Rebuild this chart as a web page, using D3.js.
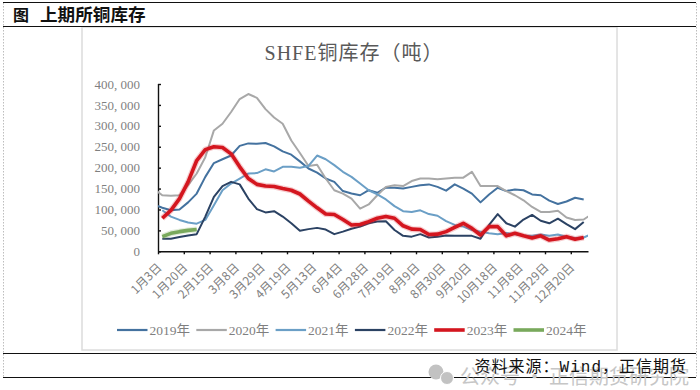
<!DOCTYPE html>
<html><head><meta charset="utf-8">
<script src="https://cdnjs.cloudflare.com/ajax/libs/d3/7.8.5/d3.min.js"></script>
<style>html,body{margin:0;padding:0;background:#fff;overflow:hidden}svg{display:block}</style>
</head><body><div id="c"></div>
<script>
const pageTitleMark = "图";
const pageTitle = "上期所铜库存";
const chartTitle = "SHFE铜库存（吨）";
const sourceText = "资料来源：Wind，正信期货";
const watermark = "公众号 · 正信期货研究院";
const tickLabels = ["1月3日","1月20日","2月15日","3月8日","3月29日","4月19日","5月13日","6月4日","6月28日","7月19日","8月9日","8月30日","9月20日","10月18日","11月8日","11月29日","12月20日"];
const yTicks = [0,50000,100000,150000,200000,250000,300000,350000,400000];
const seriesNames = ["2019年","2020年","2021年","2022年","2023年","2024年"];
const seriesStart = [-1,-1,0,0,0,0];
// thousand tons, weekly
const v2019 = [112,104,98,100,117,138,178,211,220,229,252,258,257,259,251,239,231,215,198,188,174,166,144,138,134,146,140,152,152,150,154,158,160,154,145,160,150,138,117,136,152,144,148,146,136,134,121,113,119,128,124];
const v2020 = [150,134,133,134,158,186,225,289,305,333,364,376,367,340,320,305,265,235,204,207,174,146,138,126,102,112,134,154,158,156,168,174,174,172,174,176,176,190,156,156,156,144,134,122,106,94,94,97,81,75,76,90];
const v2021 = [98,83,75,69,66,75,110,146,162,174,186,187,196,191,202,202,200,204,229,220,206,190,178,162,146,136,124,108,96,94,98,89,85,72,63,59,51,47,43,41,44,41,38,37,40,37,40,35,32,33,42];
const v2022 = [30,30,34,38,41,83,130,156,166,160,126,101,93,96,83,67,49,53,56,52,41,47,54,59,67,71,72,51,37,35,41,33,35,38,37,37,37,30,63,89,67,59,76,87,73,67,78,65,53,70];
const v2023 = [79,98,126,166,217,243,250,248,233,202,174,160,156,155,150,146,137,120,104,89,88,76,63,64,71,79,83,79,61,53,52,40,41,47,57,67,55,39,59,59,37,43,37,32,37,27,30,35,29,33];
const v2024 = [35,43,47,50,52];
const seriesValues = [v2019,v2020,v2021,v2022,v2023,v2024];
const seriesColors = ["#44729f","#a8a8a8","#6b9fc6","#2b4263","#d4161f","#79a95c"];
const seriesWidths = [2,2,2,2,3.6,3.6];

const W=700,H=390;
const svg=d3.select("#c").append("svg").attr("width",W).attr("height",H);
const serif='"Liberation Serif","Noto Sans CJK SC",serif';
const cjk='"Noto Sans CJK SC",sans-serif';

// frame
svg.append("rect").attr("x",82).attr("y",27).attr("width",535).attr("height",323).attr("fill","#fff").attr("stroke","#dcdcdc").attr("stroke-width",1.5);
[[3.5],[696.5]].forEach(([x])=>svg.append("line").attr("x1",x).attr("x2",x).attr("y1",3).attr("y2",377).attr("stroke","#bdbdbd").attr("stroke-dasharray","1.5 1.5"));
[2.5,26.5,353.5,377.5].forEach(y=>svg.append("line").attr("x1",3).attr("x2",696).attr("y1",y).attr("y2",y).attr("stroke","#111").attr("stroke-width",1.2));

svg.append("text").attr("x",13).attr("y",21).attr("font-family",cjk).attr("font-weight",700).attr("font-size",16).attr("fill","#111").text(pageTitleMark);
svg.append("text").attr("x",40).attr("y",21).attr("font-family",cjk).attr("font-weight",700).attr("font-size",17.6).attr("fill","#111").text(pageTitle);
svg.append("text").attr("x",354).attr("y",60).attr("text-anchor","middle").attr("font-family",serif).attr("font-size",20).attr("letter-spacing",1).attr("fill","#595959").text(chartTitle);

const x=d3.scaleLinear().domain([0,50]).range([158,588]);
const y=d3.scaleLinear().domain([0,400000]).range([251.3,84]);

const yAxis=d3.axisRight(y).tickValues(yTicks).tickSize(3).tickFormat(d=>d3.format(",")(d).replace(",",", "));
const gy=svg.append("g").attr("transform","translate(158,0)").call(yAxis);
gy.select(".domain").attr("stroke","#111").attr("stroke-width",1.4).attr("d","M0.5,84V251.3");
gy.selectAll(".tick line").attr("stroke","#111").attr("stroke-width",1.4);
gy.selectAll(".tick text").attr("x",-18).attr("text-anchor","end").attr("font-family",serif).attr("font-size",13).attr("fill","#7f7f7f");

const xAxis=d3.axisBottom(x).tickValues(tickLabels.map((d,i)=>i*3)).tickSize(3).tickSizeOuter(0).tickFormat((d,i)=>tickLabels[i]);
const gx=svg.append("g").attr("transform","translate(0,251.3)").call(xAxis);
gx.select(".domain").attr("stroke","#111").attr("stroke-width",1.4);
gx.selectAll(".tick line").attr("stroke","#111").attr("stroke-width",1.4);
gx.selectAll(".tick text").attr("y",0).attr("dy",0).attr("text-anchor","end")
  .attr("transform","translate(4,17) rotate(-45)")
  .attr("font-family",cjk+"").attr("font-size",12).attr("fill","#7f7f7f");

svg.append("clipPath").attr("id","p").append("rect").attr("x",158).attr("y",80).attr("width",430).attr("height",172);
const plot=svg.append("g").attr("clip-path","url(#p)");
const line=d3.line().x(d=>x(d.i+0.5)).y(d=>y(d.v*1000));
seriesValues.forEach((vals,s)=>{
  const pts=vals.map((v,k)=>({i:k+seriesStart[s],v}));
  if(s>=4) plot.append("path").datum(pts).attr("d",line).attr("fill","none").attr("stroke",seriesColors[s]).attr("stroke-opacity",.22).attr("stroke-width",seriesWidths[s]+2.4).attr("stroke-linejoin","round");
  plot.append("path").datum(pts).attr("d",line).attr("fill","none").attr("stroke",seriesColors[s]).attr("stroke-width",seriesWidths[s]).attr("stroke-linejoin","round");
});

// legend
const lg=d3.scaleLinear().domain([0,5]).range([117,513.5]);
seriesNames.forEach((n,i)=>{
  const g=svg.append("g").attr("transform",`translate(${lg(i)},330)`);
  g.append("line").attr("x1",0).attr("x2",30.5).attr("stroke",seriesColors[i]).attr("stroke-width",seriesWidths[i]+ (i<4?0.2:0));
  g.append("text").attr("x",32.5).attr("y",4.5).attr("font-family",serif).attr("font-size",13.5).attr("fill","#7f7f7f").text(n);
});

// watermark and source
const wm=svg.append("g").attr("fill","#c2c2c2");
wm.append("circle").attr("cx",436).attr("cy",372).attr("r",7.5);
wm.append("circle").attr("cx",447).attr("cy",378).attr("r",6.5).attr("stroke","#fff").attr("stroke-width",1);
wm.append("text").attr("x",460).attr("y",384).attr("font-family",cjk).attr("font-size",20).attr("fill","#c6c6c6").text(watermark);
svg.append("text").attr("x",687).attr("y",372).attr("text-anchor","end").attr("font-family",'"Liberation Mono","Noto Sans CJK SC",monospace').attr("font-size",16).attr("letter-spacing",1).attr("fill","#111").text(sourceText);
</script></body></html>
